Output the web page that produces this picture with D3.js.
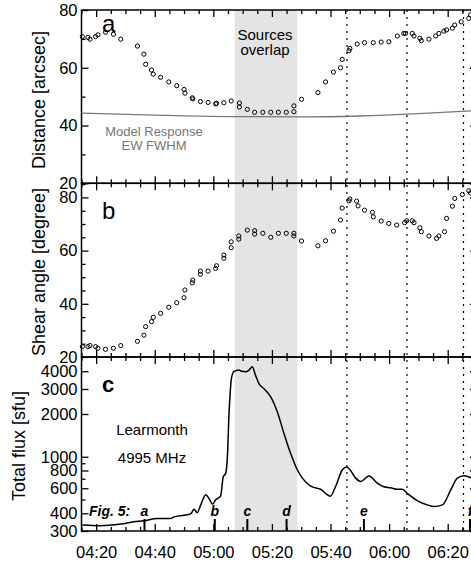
<!DOCTYPE html>
<html>
<head>
<meta charset="utf-8">
<script src="https://cdn.jsdelivr.net/npm/d3@7"></script>
<style>
body { margin: 0; background: #fff; }
text { font-family: "Liberation Sans", Arial, Helvetica, sans-serif; }
</style>
</head>
<body>
<div id="chart"></div>
<script>
// all times are minutes after 04:00 UT

// panel a: distance between sources [arcsec]
var distTime = [15.3, 17.2, 17.9, 19.8, 20.6, 23.2, 25.9, 28.4, 34.1, 36.3, 36.9, 38.9, 39.5, 42.0, 44.8, 47.5, 50.0, 50.3, 52.8, 53.0,
    55.6, 58.2, 60.8, 61.1, 63.6, 66.1, 68.9, 68.9, 71.6, 74.1, 76.9, 79.6, 82.2, 84.9, 87.5, 87.5, 90.1, 95.7, 98.3, 101.0,
    103.4, 104.0, 106.3, 106.6, 109.1, 111.6, 114.6, 117.3, 119.9, 122.8, 125.0, 125.6, 127.9, 128.5, 130.5, 131.0, 133.6, 135.9, 137.0, 138.7,
    139.6, 141.6, 142.4, 144.6, 147.2, 147.8];
var distVal = [70.8, 70.5, 69.9, 70.8, 71.4, 72.3, 71.6, 69.9, 67.5, 64.7, 61.2, 59.2, 57.8, 56.7, 55.1, 53.8, 52.5, 51.2, 49.6, 49.2,
    48.3, 48.0, 47.5, 47.7, 47.9, 48.5, 47.8, 46.4, 45.6, 44.6, 44.6, 44.6, 44.6, 44.6, 44.8, 46.8, 49.1, 51.4, 55.1, 58.5,
    60.0, 62.9, 65.9, 66.7, 68.2, 68.7, 68.7, 68.9, 69.0, 71.0, 71.9, 71.9, 71.9, 71.0, 70.2, 69.4, 69.9, 71.0, 71.9, 72.7,
    73.1, 73.7, 74.8, 75.9, 77.1, 78.3];

// model response EW FWHM (grey curve)
var modelTime = [15, 40, 65, 90, 110, 130, 150];
var modelVal = [44.3, 43.6, 43.1, 43.0, 43.3, 44.1, 45.2];

// panel b: shear angle [degree]
var shearTime = [15.3, 17.2, 17.9, 19.8, 20.6, 23.2, 25.9, 28.4, 34.1, 36.3, 36.9, 38.9, 39.5, 42.0, 44.8, 47.5, 50.0, 50.3, 52.8, 53.0,
    55.6, 55.6, 58.2, 60.8, 61.1, 63.6, 63.6, 66.1, 66.1, 68.7, 68.7, 71.6, 74.1, 74.1, 76.9, 79.6, 82.2, 84.9, 87.5, 87.5,
    90.1, 95.7, 98.3, 101.0, 103.4, 104.0, 106.3, 106.6, 108.9, 109.4, 111.6, 114.3, 114.6, 117.3, 119.9, 122.6, 125.3, 126.0, 127.9, 128.5,
    130.5, 131.0, 133.6, 136.2, 137.0, 138.9, 139.6, 141.6, 142.4, 145.0, 147.2, 147.8];
var shearVal = [23.9, 23.9, 24.3, 23.9, 23.3, 22.9, 23.3, 24.3, 25.9, 28.2, 31.4, 33.3, 34.9, 36.4, 38.7, 40.4, 42.3, 45.2, 47.9, 48.9,
    51.1, 52.3, 52.3, 53.3, 54.3, 57.1, 58.3, 61.1, 63.3, 65.5, 64.3, 67.7, 67.5, 66.2, 66.5, 65.0, 66.5, 66.5, 66.5, 65.5,
    63.6, 61.8, 63.7, 67.3, 71.5, 76.0, 78.7, 79.4, 78.6, 76.8, 75.2, 74.4, 72.7, 71.1, 70.2, 69.6, 70.5, 71.2, 71.2, 70.5,
    68.6, 67.1, 65.5, 64.6, 65.5, 67.1, 72.1, 76.7, 79.6, 81.1, 82.5, 81.7];

// panel c: Learmonth 4995 MHz total flux [sfu]
var fluxTime = [15.3, 21.5, 28.4, 32.9, 36.3, 40.9, 45.4, 46.6, 52.3, 53.4, 54.5, 55.7, 57.4, 58.8, 59.7, 60.8, 62.5, 63.4, 64.2, 64.9,
    65.3, 65.7, 66.1, 67.0, 68.7, 69.6, 71.0, 72.2, 73.3, 74.4, 75.6, 77.3, 79.6, 81.8, 84.1, 86.4, 88.7, 90.4, 93.2, 96.6,
    100.0, 101.7, 104.0, 105.5, 106.9, 108.6, 110.3, 113.1, 116.0, 118.2, 120.5, 122.8, 124.5, 126.2, 129.6, 133.0, 135.3, 138.2, 141.0, 143.3,
    145.5, 148.2];
var fluxVal = [331, 327, 336, 348, 354, 368, 368, 377, 396, 426, 404, 458, 540, 497, 463, 497, 531, 723, 762, 1100,
    1909, 2700, 3480, 3970, 4080, 4000, 3970, 4080, 4300, 3740, 3265, 3010, 2640, 2080, 1460, 1055, 807, 707, 620, 590,
    528, 615, 807, 848, 797, 707, 670, 732, 652, 615, 605, 590, 590, 552, 491, 458, 446, 458, 582, 707,
    735, 707];

// overlap interval, dotted times and Fig. 5 markers
var overlap = [67.3, 88.7];
var dottedTimes = [105.6, 126.1, 145.4];
var markerNames = ["a", "b", "c", "d", "e", "f"];
var markerTimes = [36.5, 60.5, 71.6, 85.0, 111.4, 147.6];

var timeMajor = [20, 40, 60, 80, 100, 120, 140];
var timeMinor = d3.range(15, 151, 5).filter(function(d) { return d % 20 != 0; });

var distMajor = [20, 40, 60, 80], distMinor = [30, 50, 70];
var shearMajor = [20, 40, 60, 80], shearMinor = [25, 30, 35, 45, 50, 55, 65, 70, 75, 85];
var fluxMajor = [300, 400, 600, 800, 1000, 2000, 3000, 4000], fluxMinor = [500, 700, 900];

var svg = d3.select("#chart")
    .append("svg")
    .attr("width", 471)
    .attr("height", 565);

var left = 81.5, right = 477;
var x = d3.scaleLinear().domain([15, 150]).range([left, right]);

var yA = d3.scaleLinear().domain([20, 80]).range([183.3, 10]);
var yB = d3.scaleLinear().domain([20, 85.3]).range([357, 183.3]);
var yC = d3.scaleLog().domain([300, 5040]).range([531, 357]);

function fmtTime(m) {
    var h = 4 + Math.floor(m / 60);
    return d3.format("02d")(h) + ":" + d3.format("02d")(m % 60);
}

// grey band where sources overlap
svg.append("rect")
    .attr("x", x(overlap[0]))
    .attr("y", 10)
    .attr("width", x(overlap[1]) - x(overlap[0]))
    .attr("height", 521)
    .attr("fill", "#e4e4e4");

// dotted vertical lines through all panels
svg.selectAll("line.dot")
    .data(dottedTimes)
    .enter()
    .append("line")
    .attr("x1", function(d) { return x(d); })
    .attr("x2", function(d) { return x(d); })
    .attr("y1", 10)
    .attr("y2", 531)
    .attr("stroke", "#000")
    .attr("stroke-width", 1.2)
    .attr("stroke-dasharray", "2,5");

// ticks helper, all ticks point inward
function tickSet(axisFn, scale, vals, size, pos, fmt) {
    var g = svg.append("g").attr("transform", pos);
    g.call(axisFn(scale).tickValues(vals).tickSize(-size).tickPadding(4).tickFormat(fmt || ""));
    g.select(".domain").remove();
    g.selectAll("line").attr("stroke", "#000").attr("stroke-width", 1.3);
    g.selectAll("text").attr("font-size", 16.5).attr("fill", "#000");
    return g;
}

function panel(y, major, minor, fmt, top, bottom, labelX) {
    tickSet(d3.axisLeft, y, major, 7, "translate(" + left + ",0)", fmt);
    tickSet(d3.axisLeft, y, minor, 4, "translate(" + left + ",0)");
    tickSet(d3.axisRight, y, major, 7, "translate(" + right + ",0)");
    tickSet(d3.axisRight, y, minor, 4, "translate(" + right + ",0)");
    tickSet(d3.axisTop, x, timeMajor, 7, "translate(0," + top + ")");
    tickSet(d3.axisTop, x, timeMinor, 4, "translate(0," + top + ")");
    var gb = tickSet(d3.axisBottom, x, timeMajor, 7, "translate(0," + bottom + ")", labelX ? fmtTime : null);
    gb.selectAll("text").attr("dy", "0.71em").attr("y", 15);
    tickSet(d3.axisBottom, x, timeMinor, 4, "translate(0," + bottom + ")");
    svg.append("rect")
        .attr("x", left).attr("y", top)
        .attr("width", right - left).attr("height", bottom - top)
        .attr("fill", "none").attr("stroke", "#000").attr("stroke-width", 1.5);
}

panel(yA, distMajor, distMinor, d3.format("d"), 10, 183.3, false);
panel(yB, shearMajor, shearMinor, d3.format("d"), 183.3, 357, false);
panel(yC, fluxMajor, fluxMinor, d3.format("d"), 357, 531, true);

// model response curve
var modelLine = d3.line()
    .x(function(d, i) { return x(modelTime[i]); })
    .y(function(d) { return yA(d); })
    .curve(d3.curveMonotoneX);
svg.append("path")
    .attr("d", modelLine(modelVal))
    .attr("fill", "none")
    .attr("stroke", "#777")
    .attr("stroke-width", 1.3);

// distance points
svg.selectAll("circle.dist")
    .data(distVal)
    .enter()
    .append("circle")
    .attr("cx", function(d, i) { return x(distTime[i]); })
    .attr("cy", function(d) { return yA(d); })
    .attr("r", 2.1)
    .attr("fill", "none")
    .attr("stroke", "#000")
    .attr("stroke-width", 1);

// shear points
svg.selectAll("circle.shear")
    .data(shearVal)
    .enter()
    .append("circle")
    .attr("cx", function(d, i) { return x(shearTime[i]); })
    .attr("cy", function(d) { return yB(d); })
    .attr("r", 2.1)
    .attr("fill", "none")
    .attr("stroke", "#000")
    .attr("stroke-width", 1);

// flux curve
var fluxLine = d3.line()
    .x(function(d, i) { return x(fluxTime[i]); })
    .y(function(d) { return yC(d); })
    .curve(d3.curveMonotoneX);
svg.append("path")
    .attr("d", fluxLine(fluxVal))
    .attr("fill", "none")
    .attr("stroke", "#000")
    .attr("stroke-width", 1.5);

// Fig. 5 markers
svg.selectAll("rect.mark")
    .data(markerTimes)
    .enter()
    .append("rect")
    .attr("x", function(d) { return x(d) - 1; })
    .attr("y", 519)
    .attr("width", 2)
    .attr("height", 12)
    .attr("fill", "#000");
svg.selectAll("text.mark")
    .data(markerNames)
    .enter()
    .append("text")
    .attr("x", function(d, i) { return x(markerTimes[i]); })
    .attr("y", 516)
    .attr("text-anchor", "middle")
    .attr("font-size", 14)
    .attr("font-weight", "bold")
    .attr("font-style", "italic")
    .text(function(d) { return d; });
svg.append("text")
    .attr("x", 89).attr("y", 516)
    .attr("font-size", 14).attr("font-weight", "bold").attr("font-style", "italic")
    .text("Fig. 5:");

// panel letters
svg.append("text").attr("x", 102).attr("y", 32).attr("font-size", 24).text("a");
svg.append("text").attr("x", 102).attr("y", 219).attr("font-size", 24).text("b");
svg.append("text").attr("x", 102).attr("y", 392).attr("font-size", 22).attr("font-weight", "bold").text("c");

// annotations
svg.append("text").attr("x", 265).attr("y", 40).attr("text-anchor", "middle").attr("font-size", 15).text("Sources");
svg.append("text").attr("x", 265).attr("y", 55).attr("text-anchor", "middle").attr("font-size", 15).text("overlap");
svg.append("text").attr("x", 154).attr("y", 136).attr("text-anchor", "middle").attr("font-size", 13).attr("fill", "#777").text("Model Response");
svg.append("text").attr("x", 154).attr("y", 150).attr("text-anchor", "middle").attr("font-size", 13).attr("fill", "#777").text("EW FWHM");
svg.append("text").attr("x", 152).attr("y", 435).attr("text-anchor", "middle").attr("font-size", 15).text("Learmonth");
svg.append("text").attr("x", 152).attr("y", 463).attr("text-anchor", "middle").attr("font-size", 15).text("4995 MHz");

// axis titles
svg.append("text").attr("transform", "translate(45,100)rotate(-90)").attr("text-anchor", "middle").attr("font-size", 18).text("Distance [arcsec]");
svg.append("text").attr("transform", "translate(45,272)rotate(-90)").attr("text-anchor", "middle").attr("font-size", 18).text("Shear angle [degree]");
svg.append("text").attr("transform", "translate(25,446)rotate(-90)").attr("text-anchor", "middle").attr("font-size", 18).text("Total flux [sfu]");
</script>
</body>
</html>
